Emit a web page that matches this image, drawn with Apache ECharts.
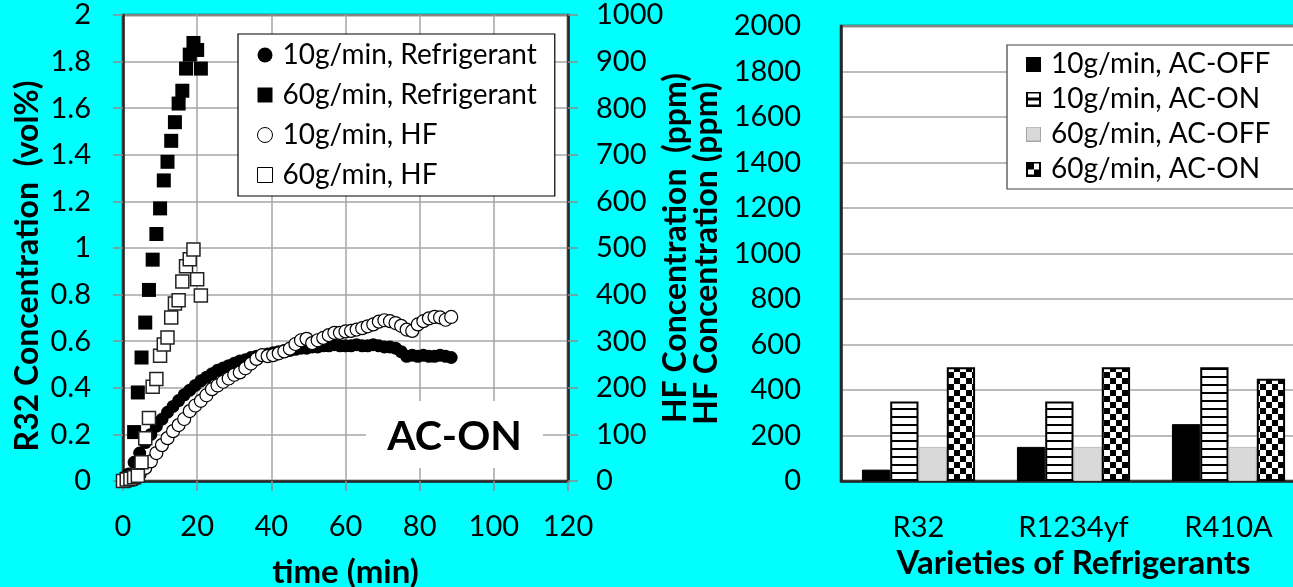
<!DOCTYPE html>
<html>
<head>
<meta charset="utf-8">
<script src="https://cdn.jsdelivr.net/npm/echarts@6/dist/echarts.min.js"></script>
<style>
  html, body { margin: 0; padding: 0; background: #00ffff; }
  #chart { width: 1293px; height: 587px; }
</style>
</head>
<body>
<div id="chart"></div>
<script>
// Leak test, 10 g/min release: sampling times (min)
const t10 = [0, 1.5, 3, 4.5, 6, 7.5, 9, 10.5, 12, 13.5, 15, 16.5, 18, 19.5, 21, 22.5, 24, 25.5, 27, 28.5,
  30, 31.5, 33, 34.5, 36, 37.5, 39, 40.5, 42, 43.5, 45, 46.5, 48, 49.5, 51, 52.5, 54, 55.5, 57, 58.5,
  60, 61.5, 63, 64.5, 66, 67.5, 69, 70.5, 72, 73.5, 75, 76.5, 78, 79.5, 81, 82.5, 84, 85.5, 87, 88.5];
// R32 concentration (vol%) at 10 g/min
const r32At10 = [0, 0.03, 0.08, 0.12, 0.165, 0.2, 0.235, 0.265, 0.295, 0.32, 0.345, 0.37, 0.39, 0.41, 0.43, 0.445, 0.46, 0.475, 0.485, 0.495,
  0.505, 0.515, 0.52, 0.53, 0.535, 0.54, 0.545, 0.55, 0.555, 0.56, 0.56, 0.565, 0.57, 0.57, 0.575, 0.575, 0.58, 0.58, 0.585, 0.58,
  0.58, 0.58, 0.585, 0.58, 0.58, 0.585, 0.58, 0.575, 0.575, 0.57, 0.555, 0.535, 0.54, 0.535, 0.54, 0.535, 0.535, 0.54, 0.535, 0.53];
// HF concentration (ppm) at 10 g/min
const hfAt10 = [0, 0, 3, 15, 28, 42, 60, 77, 92, 107, 120, 133, 150, 162, 172, 184, 197, 205, 213, 220,
  228, 233, 242, 252, 262, 270, 268, 270, 274, 278, 284, 294, 302, 305, 296, 302, 307, 313, 318, 318,
  321, 322, 325, 328, 332, 336, 342, 345, 343, 339, 333, 325, 322, 336, 343, 349, 352, 351, 346, 352];

// Leak test, 60 g/min release
const t60 = [0, 1, 2, 3, 4, 5, 6, 7, 8, 9, 10, 11, 12, 13, 14, 15, 16, 17, 18, 19, 20, 21];
const r32At60 = [0, 0.01, 0.02, 0.21, 0.38, 0.53, 0.68, 0.82, 0.95, 1.06, 1.17, 1.29, 1.37, 1.46, 1.54, 1.62, 1.675, 1.77, 1.83, 1.88, 1.85, 1.77];
const hfAt60 = [0, 3, 5, 8, 11, 40, 92, 135, 202, 219, 269, 293, 308, 351, 381, 388, 428, 461, 476, 497, 433, 398];

// Peak HF (ppm) by refrigerant
const refrigerants = ['R32', 'R1234yf', 'R410A'];
const hf10Off = [50, 150, 250];
const hf10On = [350, 350, 500];
const hf60Off = [150, 150, 150];
const hf60On = [500, 500, 450];

const FONT = 'Lato';
const GRID_LINE = '#a6a6a6';
const FRAME = '#262626';

function pairs(xs, ys) { return xs.map((x, i) => [x, ys[i]]); }

function makeCanvas(w, h, draw) {
  const c = document.createElement('canvas');
  c.width = w; c.height = h;
  draw(c.getContext('2d'));
  return c;
}
// bar fills
const stripes = {
  image: makeCanvas(8, 8, g => { g.fillStyle = '#fff'; g.fillRect(0, 0, 8, 8); g.fillStyle = '#000'; g.fillRect(0, 0, 8, 2); }),
  repeat: 'repeat'
};
const checker = {
  image: makeCanvas(12, 12, g => { g.fillStyle = '#fff'; g.fillRect(0, 0, 12, 12); g.fillStyle = '#000'; g.fillRect(0, 0, 6, 6); g.fillRect(6, 6, 6, 6); }),
  repeat: 'repeat'
};
// legend swatches
function swatch(draw) { return 'image://' + makeCanvas(15, 15, draw).toDataURL(); }
const iconBlack = swatch(g => { g.fillStyle = '#000'; g.fillRect(0, 0, 15, 15); });
const iconStripe = swatch(g => {
  g.fillStyle = '#000'; g.fillRect(0, 0, 15, 15);
  g.fillStyle = '#fff'; g.fillRect(2, 2, 11, 4); g.fillRect(2, 9, 11, 4);
});
const iconGray = swatch(g => { g.fillStyle = '#a6a6a6'; g.fillRect(0, 0, 15, 15); g.fillStyle = '#d9d9d9'; g.fillRect(1, 1, 13, 13); });
const iconChecker = swatch(g => {
  g.fillStyle = '#000'; g.fillRect(0, 0, 15, 15);
  g.fillStyle = '#fff'; g.fillRect(2, 2, 11, 11);
  g.fillStyle = '#000'; g.fillRect(2, 2, 6, 6); g.fillRect(8, 8, 5, 5);
});

const plain = v => String(v);
const tickLabel = { fontSize: 29, color: '#000', fontFamily: FONT, formatter: plain };
const titleText = { fontSize: 32, fontWeight: 'bold', color: '#000', fontFamily: FONT };
const xTitleText = { fontSize: 33, fontWeight: 'bold', color: '#000', fontFamily: FONT };
const tickLine = { show: true, length: 10, lineStyle: { color: '#8c8c8c', width: 1.5 } };

const chart = echarts.init(document.getElementById('chart'), null, { renderer: 'canvas' });
chart.setOption({
  backgroundColor: '#00ffff',
  animation: false,
  textStyle: { fontFamily: FONT, color: '#000' },
  grid: [
    { left: 123, top: 15, width: 445, height: 466, outerBoundsMode: 'none', containLabel: false,
      show: true, backgroundColor: '#fff', borderColor: FRAME, borderWidth: 2.5 },
    { left: 841, top: 26, width: 465, height: 455, outerBoundsMode: 'none', containLabel: false,
      show: true, backgroundColor: '#fff', borderColor: FRAME, borderWidth: 2.5 }
  ],
  xAxis: [
    {
      gridIndex: 0, type: 'value', min: 0, max: 120, interval: 20,
      name: 'time (min)', nameLocation: 'middle', nameGap: 75, nameMoveOverlap: false, nameTextStyle: xTitleText,
      axisLine: { lineStyle: { color: FRAME, width: 2.5 } },
      axisTick: tickLine,
      axisLabel: Object.assign({ margin: 31 }, tickLabel),
      splitLine: { show: true, lineStyle: { color: GRID_LINE, width: 1.5 } }
    },
    {
      gridIndex: 1, type: 'category', data: refrigerants,
      name: 'Varieties of Refrigerants', nameLocation: 'middle', nameGap: 66, nameMoveOverlap: false, nameTextStyle: xTitleText,
      axisLine: { lineStyle: { color: FRAME, width: 2.5 } },
      axisTick: { show: false },
      axisLabel: { margin: 32, fontSize: 29, color: '#000', fontFamily: FONT },
      splitLine: { show: false }
    }
  ],
  yAxis: [
    {
      gridIndex: 0, type: 'value', min: 0, max: 2, interval: 0.2,
      name: 'R32 Concentration  (vol%)', nameLocation: 'middle', nameRotate: 90, nameGap: 79, nameMoveOverlap: false,
      nameTextStyle: Object.assign({ padding: [0, 36, 0, 0] }, titleText),
      axisLine: { show: true, lineStyle: { color: FRAME, width: 2.5 } },
      axisTick: tickLine,
      axisLabel: Object.assign({ margin: 32 }, tickLabel),
      splitLine: { show: true, lineStyle: { color: GRID_LINE, width: 1.5 } }
    },
    {
      gridIndex: 0, type: 'value', position: 'right', min: 0, max: 1000, interval: 100,
      name: 'HF Concentration  (ppm)', nameLocation: 'middle', nameRotate: 90, nameGap: 92, nameMoveOverlap: false,
      nameTextStyle: titleText,
      axisLine: { show: true, lineStyle: { color: FRAME, width: 2.5 } },
      axisTick: tickLine,
      axisLabel: Object.assign({ margin: 28 }, tickLabel),
      splitLine: { show: false }
    },
    {
      gridIndex: 1, type: 'value', min: 0, max: 2000, interval: 200,
      name: 'HF Concentration (ppm)', nameLocation: 'middle', nameRotate: 90, nameGap: 118, nameMoveOverlap: false,
      nameTextStyle: titleText,
      axisLine: { show: true, lineStyle: { color: FRAME, width: 2.5 } },
      axisTick: { show: false },
      axisLabel: Object.assign({ margin: 40 }, tickLabel),
      splitLine: { show: true, lineStyle: { color: GRID_LINE, width: 1.5 } }
    }
  ],
  legend: [
    {
      orient: 'vertical', left: 238, top: 34, selectedMode: false,
      padding: [6, 18, 6, 19], itemWidth: 15, itemHeight: 15, itemGap: 10,
      backgroundColor: '#fff', borderColor: '#000', borderWidth: 1.2,
      textStyle: { fontSize: 28, lineHeight: 30, color: '#000', fontFamily: FONT, padding: [0, 0, 0, 5] },
      data: [
        { name: '10g/min, Refrigerant', icon: 'circle', itemStyle: { color: '#000', borderWidth: 0, opacity: 1 } },
        { name: '60g/min, Refrigerant', icon: 'rect', itemStyle: { color: '#000', borderWidth: 0, opacity: 1 } },
        { name: '10g/min, HF', icon: 'circle', itemStyle: { color: '#fff', borderColor: '#000', borderWidth: 1, opacity: 1 } },
        { name: '60g/min, HF', icon: 'rect', itemStyle: { color: '#fff', borderColor: '#000', borderWidth: 1, opacity: 1 } }
      ]
    },
    {
      orient: 'vertical', left: 1007, top: 45, selectedMode: false,
      padding: [4, 32, 5, 19], itemWidth: 15, itemHeight: 15, itemGap: 5,
      backgroundColor: '#fff', borderColor: '#404040', borderWidth: 1.2,
      textStyle: { fontSize: 28, lineHeight: 30, color: '#000', fontFamily: FONT, padding: [0, 0, 0, 5] },
      data: [
        { name: '10g/min, AC-OFF', icon: iconBlack },
        { name: '10g/min, AC-ON', icon: iconStripe },
        { name: '60g/min, AC-OFF', icon: iconGray },
        { name: '60g/min, AC-ON', icon: iconChecker }
      ]
    }
  ],
  graphic: [
    { type: 'rect', left: 366, top: 401, z: 5, shape: { width: 177, height: 67 }, style: { fill: '#fff' } },
    { type: 'text', x: 454.5, y: 437, z: 6, style: { text: 'AC-ON', font: 'bold 41px Lato', fill: '#000', textAlign: 'center', textVerticalAlign: 'middle' } }
  ],
  series: [
    {
      name: '10g/min, Refrigerant', type: 'scatter', xAxisIndex: 0, yAxisIndex: 0,
      symbol: 'circle', symbolSize: 13, itemStyle: { color: '#000', opacity: 1 },
      data: pairs(t10, r32At10)
    },
    {
      name: '60g/min, Refrigerant', type: 'scatter', xAxisIndex: 0, yAxisIndex: 0,
      symbol: 'rect', symbolSize: 14, itemStyle: { color: '#000', opacity: 1 },
      data: pairs(t60, r32At60)
    },
    {
      name: '10g/min, HF', type: 'scatter', xAxisIndex: 0, yAxisIndex: 1,
      symbol: 'circle', symbolSize: 13, itemStyle: { color: '#fff', borderColor: '#000', borderWidth: 1.2, opacity: 1 },
      data: pairs(t10, hfAt10)
    },
    {
      name: '60g/min, HF', type: 'scatter', xAxisIndex: 0, yAxisIndex: 1,
      symbol: 'rect', symbolSize: 13, itemStyle: { color: '#fff', borderColor: '#222', borderWidth: 1.5, opacity: 1 },
      data: pairs(t60, hfAt60)
    },
    {
      name: '10g/min, AC-OFF', type: 'bar', xAxisIndex: 1, yAxisIndex: 2,
      barGap: '0%', barCategoryGap: '27%',
      itemStyle: { color: '#000', borderColor: '#000', borderWidth: 1 },
      data: hf10Off
    },
    {
      name: '10g/min, AC-ON', type: 'bar', xAxisIndex: 1, yAxisIndex: 2,
      barGap: '0%', barCategoryGap: '27%',
      itemStyle: { color: stripes, borderColor: '#000', borderWidth: 2 },
      data: hf10On
    },
    {
      name: '60g/min, AC-OFF', type: 'bar', xAxisIndex: 1, yAxisIndex: 2,
      barGap: '0%', barCategoryGap: '27%',
      itemStyle: { color: '#d9d9d9', borderColor: '#bfbfbf', borderWidth: 1 },
      data: hf60Off
    },
    {
      name: '60g/min, AC-ON', type: 'bar', xAxisIndex: 1, yAxisIndex: 2,
      barGap: '0%', barCategoryGap: '27%',
      itemStyle: { color: checker, borderColor: '#000', borderWidth: 2 },
      data: hf60On
    }
  ]
});
</script>
</body>
</html>
